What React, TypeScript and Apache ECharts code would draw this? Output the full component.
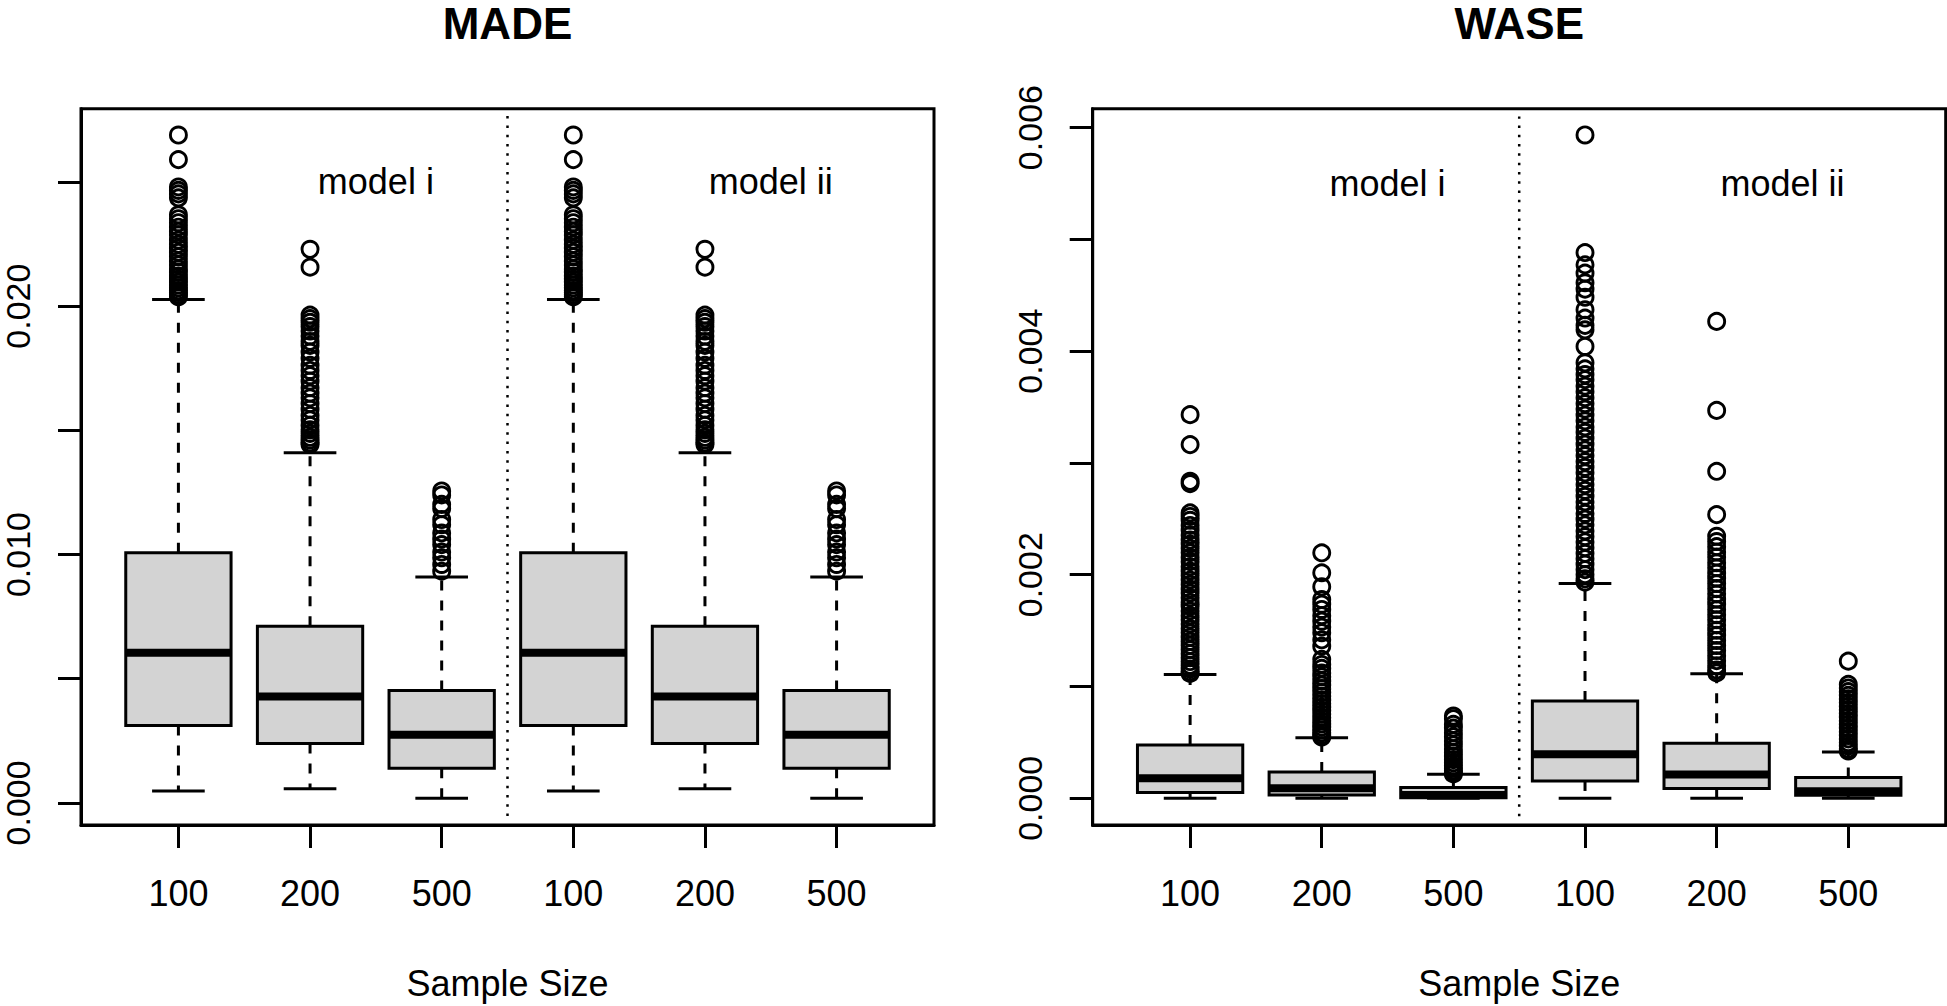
import React, { useEffect, useRef } from "react";
import * as echarts from "echarts";

// ---------- data ----------
const sampleSizes = ["100", "200", "500", "100", "200", "500"];
const positions = [1, 2, 3, 4, 5, 6];

// each row: [lower whisker, Q1, median, Q3, upper whisker]
const madeStats = [
  [0.000479, 0.003121, 0.006046, 0.01007, 0.02027],
  [0.000575, 0.002397, 0.004288, 0.007116, 0.0141],
  [0.000185, 0.001392, 0.002747, 0.004529, 0.0091],
  [0.000479, 0.003121, 0.006046, 0.01007, 0.02027],
  [0.000575, 0.002397, 0.004288, 0.007116, 0.0141],
  [0.000185, 0.001392, 0.002747, 0.004529, 0.0091],
];

const made100Out = [
  0.02689, 0.0259, 0.0248, 0.02466, 0.02452, 0.02436, 0.02368, 0.02352, 0.02336, 0.02318,
  0.02301, 0.02287, 0.02266, 0.02249, 0.02233, 0.02217, 0.02199, 0.02181, 0.02166, 0.0215,
  0.02137, 0.02121, 0.02109, 0.02097, 0.02085, 0.02074, 0.02063, 0.02055, 0.02046, 0.02038,
];
const made200Out = [
  0.02229, 0.02157, 0.01964, 0.0195, 0.01935, 0.01918, 0.019, 0.0188, 0.01858, 0.01842,
  0.01815, 0.0179, 0.01762, 0.01741, 0.0172, 0.01698, 0.01672, 0.0165, 0.01631, 0.01608,
  0.01585, 0.0156, 0.01542, 0.0152, 0.01502, 0.01488, 0.01472, 0.01461, 0.0145, 0.01443,
];
const made500Out = [
  0.01256, 0.0124, 0.01202, 0.01185, 0.01141, 0.0112, 0.01087, 0.01062, 0.0104, 0.0101,
  0.00987, 0.0096, 0.00933,
];
const madeOutliers = [made100Out, made200Out, made500Out, made100Out, made200Out, made500Out];

const waseStats = [
  [0, 0.000051, 0.00018, 0.000476, 0.001108],
  [0, 0.00003, 0.000089, 0.000235, 0.000542],
  [0, 0.000004, 0.00003, 0.000096, 0.000214],
  [0, 0.000155, 0.000393, 0.00087, 0.001921],
  [0, 0.000087, 0.000212, 0.000492, 0.001114],
  [0, 0.000027, 0.000063, 0.000185, 0.000414],
];

const wase100iOut = [
  0.003432, 0.003164, 0.002836, 0.002815, 0.002553, 0.002521, 0.002487, 0.002441, 0.002398,
  0.002352, 0.00231, 0.002274, 0.002236, 0.002198, 0.002154, 0.002117, 0.002071, 0.002032,
  0.001994, 0.001952, 0.001913, 0.001871, 0.001836, 0.001794, 0.001752, 0.001718, 0.001676,
  0.001634, 0.001597, 0.001559, 0.001518, 0.001482, 0.001441, 0.001403, 0.001368, 0.001331,
  0.001294, 0.001258, 0.001223, 0.001189, 0.001156, 0.001131, 0.001117,
];
const wase200iOut = [
  0.002196, 0.002017, 0.001892, 0.001778, 0.001736, 0.001689, 0.001634, 0.001584, 0.001532,
  0.001481, 0.001418, 0.001361, 0.001243, 0.001197, 0.001162, 0.001121, 0.001087, 0.001048,
  0.001012, 0.000981, 0.000946, 0.000912, 0.000878, 0.000847, 0.000815, 0.000786, 0.000754,
  0.000722, 0.000693, 0.000664, 0.000637, 0.000611, 0.000586, 0.000563, 0.000548,
];
const wase500iOut = [
  0.000736, 0.000712, 0.000661, 0.000628, 0.000587, 0.000551, 0.000513, 0.000478, 0.000442,
  0.000409, 0.000377, 0.000346, 0.000318, 0.000291, 0.000268, 0.000247, 0.000229, 0.000218,
];
const wase100iiOut = [
  0.005934, 0.004882, 0.004772, 0.004698, 0.004612, 0.004555, 0.004482, 0.00437, 0.004296,
  0.004231, 0.004191, 0.004042, 0.003896, 0.003842, 0.003791, 0.003745, 0.003688, 0.003637,
  0.003584, 0.003531, 0.003482, 0.003428, 0.003377, 0.003322, 0.003274, 0.003221, 0.003168,
  0.003117, 0.003066, 0.003012, 0.002961, 0.002912, 0.002858, 0.002806, 0.002755, 0.002702,
  0.002651, 0.002603, 0.002548, 0.002497, 0.002446, 0.002392, 0.002341, 0.002293, 0.002242,
  0.002191, 0.002143, 0.002094, 0.002046, 0.002001, 0.001963, 0.001934,
];
const wase200iiOut = [
  0.004266, 0.00347, 0.002925, 0.002538, 0.002344, 0.002297, 0.002251, 0.002203, 0.002158,
  0.002107, 0.002062, 0.002014, 0.001968, 0.001921, 0.001876, 0.001829, 0.001781, 0.001736,
  0.001688, 0.001642, 0.001597, 0.001551, 0.001503, 0.001458, 0.001412, 0.001367, 0.001322,
  0.001276, 0.001231, 0.001186, 0.001148, 0.001122,
];
const wase500iiOut = [
  0.001227, 0.001019, 0.000987, 0.000954, 0.000921, 0.000889, 0.000856, 0.000822, 0.000791,
  0.000758, 0.000726, 0.000693, 0.000661, 0.000628, 0.000596, 0.000563, 0.000531, 0.000498,
  0.000467, 0.000441, 0.000423,
];
const waseOutliers = [wase100iOut, wase200iOut, wase500iOut, wase100iiOut, wase200iiOut, wase500iiOut];

const madeTicks = [0, 0.005, 0.01, 0.015, 0.02, 0.025];
const madeTickLabels = [0, 0.01, 0.02];
const waseTicks = [0, 0.001, 0.002, 0.003, 0.004, 0.005, 0.006];
const waseTickLabels = [0, 0.002, 0.004, 0.006];
const madeRange = [-0.000889, 0.02795];
const waseRange = [-0.000239, 0.006169];
const xRange = [0.26, 6.74];

const modelLabels = ["model i", "model ii"];
const modelLabelX = [2.5, 5.5];
const madeModelY = 0.025;
const waseModelY = 0.0055;
const dividerX = 3.5;
const madeDivider = [-0.00053, 0.02766];
const waseDivider = [-0.00016, 0.0061];

const panelTitles = ["MADE", "WASE"];
const xAxisTitle = "Sample Size";

// ---------- layout / style ----------
const FONT = '"Liberation Sans", Arial, Helvetica, sans-serif';
const GRID_TOP = 108.7;
const GRID_H = 717;
const GRID_W = 853;
const GRID_LEFTS = [81, 1092.7];

function renderBox(params: any, api: any) {
  const x = api.value(0);
  const lw = api.value(1);
  const q1 = api.value(2);
  const med = api.value(3);
  const q3 = api.value(4);
  const uw = api.value(5);
  const halfBox = 0.4;
  const halfCap = 0.2;
  const c = api.coord([x, med]);
  const pLw = api.coord([x, lw]);
  const pQ1 = api.coord([x, q1]);
  const pQ3 = api.coord([x, q3]);
  const pUw = api.coord([x, uw]);
  const bl = api.coord([x - halfBox, q3]);
  const br = api.coord([x + halfBox, q1]);
  const cl = api.coord([x - halfCap, lw]);
  const cr = api.coord([x + halfCap, lw]);
  const dash = { stroke: "#000", lineWidth: 3, lineDash: [10, 10], fill: null };
  const solid = { stroke: "#000", lineWidth: 3, fill: null };
  return {
    type: "group",
    children: [
      { type: "line", shape: { x1: c[0], y1: pQ3[1], x2: c[0], y2: pUw[1] }, style: dash },
      { type: "line", shape: { x1: c[0], y1: pQ1[1], x2: c[0], y2: pLw[1] }, style: dash },
      { type: "line", shape: { x1: cl[0], y1: pUw[1], x2: cr[0], y2: pUw[1] }, style: solid },
      { type: "line", shape: { x1: cl[0], y1: pLw[1], x2: cr[0], y2: pLw[1] }, style: solid },
      {
        type: "rect",
        shape: { x: bl[0], y: pQ3[1], width: br[0] - bl[0], height: pQ1[1] - pQ3[1] },
        style: { fill: "#d3d3d3", stroke: "#000", lineWidth: 3 },
      },
      {
        type: "line",
        shape: { x1: bl[0], y1: c[1], x2: br[0], y2: c[1] },
        style: { stroke: "#000", lineWidth: 8, fill: null },
      },
    ],
  };
}

function panelSeries(idx: number, stats: number[][], outliers: number[][], modelY: number, divider: number[]) {
  const outData: number[][] = [];
  outliers.forEach((arr, i) => arr.forEach((v) => outData.push([positions[i], v])));
  return [
    {
      type: "line",
      xAxisIndex: idx,
      yAxisIndex: idx,
      data: [
        [dividerX, divider[0]],
        [dividerX, divider[1]],
      ],
      symbol: "none",
      silent: true,
      lineStyle: { color: "#000", width: 2.5, type: [2.5, 6.8] },
      z: 1,
    },
    {
      type: "custom",
      xAxisIndex: idx,
      yAxisIndex: idx,
      renderItem: renderBox,
      encode: { x: 0, y: [1, 2, 3, 4, 5] },
      data: positions.map((p, i) => [p, ...stats[i]]),
      silent: true,
      z: 2,
    },
    {
      type: "scatter",
      xAxisIndex: idx,
      yAxisIndex: idx,
      data: outData,
      symbol: "circle",
      symbolSize: 16,
      silent: true,
      itemStyle: { color: "rgba(0,0,0,0)", borderColor: "#000", borderWidth: 2.9, opacity: 1 },
      z: 3,
    },
    {
      type: "scatter",
      xAxisIndex: idx,
      yAxisIndex: idx,
      data: modelLabels.map((name, i) => ({ name, value: [modelLabelX[i], modelY] })),
      symbolSize: 0,
      silent: true,
      itemStyle: { opacity: 1 },
      label: {
        show: true,
        position: "inside",
        formatter: "{b}",
        fontSize: 36,
        fontFamily: FONT,
        color: "#000",
        opacity: 1,
        align: "center",
        verticalAlign: "middle",
      },
      z: 4,
    },
  ];
}

function xAxis(idx: number) {
  return {
    gridIndex: idx,
    type: "value",
    min: xRange[0],
    max: xRange[1],
    axisLine: { show: true, onZero: false, lineStyle: { color: "#000", width: 3 } },
    splitLine: { show: false },
    axisTick: {
      show: true,
      customValues: positions,
      length: 23,
      lineStyle: { color: "#000", width: 3 },
    },
    axisLabel: {
      show: true,
      customValues: positions,
      formatter: (v: number) => sampleSizes[Math.round(v) - 1] ?? "",
      margin: 50,
      fontSize: 36,
      fontFamily: FONT,
      color: "#000",
    },
    name: xAxisTitle,
    nameLocation: "middle",
    nameGap: 140,
    nameTextStyle: { fontSize: 36, fontFamily: FONT, color: "#000" },
  };
}

function yAxis(idx: number, range: number[], ticks: number[], labels: number[]) {
  return {
    gridIndex: idx,
    type: "value",
    min: range[0],
    max: range[1],
    axisLine: { show: true, onZero: false, lineStyle: { color: "#000", width: 3 } },
    splitLine: { show: false },
    axisTick: {
      show: true,
      customValues: ticks,
      length: 23,
      lineStyle: { color: "#000", width: 3 },
    },
    axisLabel: {
      show: true,
      customValues: labels,
      rotate: 90,
      formatter: (v: number) => v.toFixed(3),
      margin: 46,
      fontSize: 34,
      fontFamily: FONT,
      color: "#000",
    },
  };
}

export default function App() {
  const ref = useRef<HTMLDivElement | null>(null);
  useEffect(() => {
    if (!ref.current) return;
    const chart = echarts.init(ref.current, undefined, { renderer: "svg" });
    const option: any = {
      animation: false,
      backgroundColor: "#fff",
      grid: GRID_LEFTS.map((left) => ({
        left,
        top: GRID_TOP,
        width: GRID_W,
        height: GRID_H,
        show: true,
        borderColor: "#000",
        borderWidth: 3,
        backgroundColor: "transparent",
      })),
      xAxis: [xAxis(0), xAxis(1)],
      yAxis: [
        yAxis(0, madeRange, madeTicks, madeTickLabels),
        yAxis(1, waseRange, waseTicks, waseTickLabels),
      ],
      graphic: panelTitles.map((t, i) => ({
        type: "text",
        x: GRID_LEFTS[i] + GRID_W / 2,
        y: 23,
        style: {
          text: t,
          font: `bold 44px ${FONT}`,
          fill: "#000",
          align: "center",
          verticalAlign: "middle",
          textAlign: "center",
          textVerticalAlign: "middle",
        },
        silent: true,
      })),
      series: [
        ...panelSeries(0, madeStats, madeOutliers, madeModelY, madeDivider),
        ...panelSeries(1, waseStats, waseOutliers, waseModelY, waseDivider),
      ],
    };
    chart.setOption(option);
    return () => chart.dispose();
  }, []);
  return (
    <div
      ref={ref}
      style={{ position: "fixed", left: 0, top: 0, width: 1947, height: 1006, background: "#fff" }}
    />
  );
}
